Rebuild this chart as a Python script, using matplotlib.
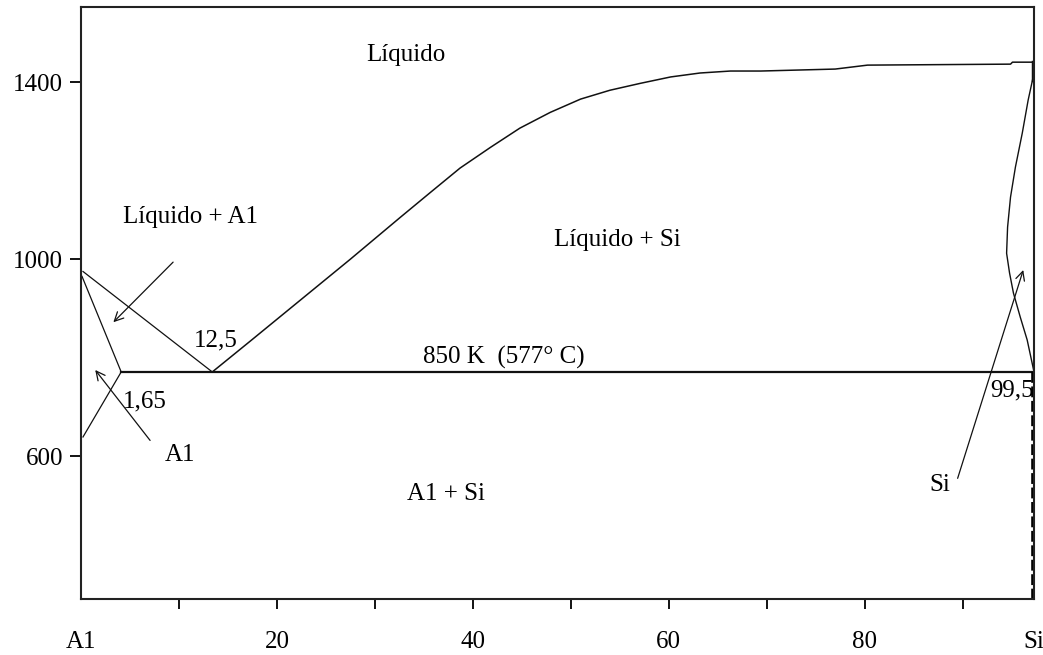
import matplotlib
matplotlib.use("Agg")
import matplotlib.pyplot as plt

plt.rcParams['font.family'] = ['Liberation Serif', 'DejaVu Serif']

# diagrama de fases Al-Si (esquematico), valores leidos do grafico
XSI = 97.3                      # borda direita = Si puro
T_EUT = 771                     # linha do eutetico "850 K"
YMIN, YMAX = 310, 1512

# liquidus do lado do Al
liq_al_x = [0.2, 13.4]
liq_al_y = [975, T_EUT]
# solidus e solvus do Al
sol_al_x = [0.1, 4.1]
sol_al_y = [965, T_EUT]
solvus_x = [4.1, 0.2]
solvus_y = [T_EUT, 639]

# liquidus do lado do Si
liq_si_x = [13.4, 17.3, 22.4, 27.5, 32.6, 35.7, 38.7, 41.8, 44.8, 47.9,
            51.0, 54.0, 57.1, 60.2, 63.2, 66.3, 69.4, 77.0, 80.3, 94.9,
            95.1, XSI]
liq_si_y = [T_EUT, 834, 917, 1000, 1085, 1136, 1185, 1227, 1266, 1298,
            1325, 1343, 1357, 1370, 1378, 1382, 1382, 1386, 1394, 1396,
            1400, 1400]

# solidus do Si (curva perto da borda direita)
sol_si_x = [XSI, 96.7, 96.1, 95.4, 94.9, 94.6, 94.5, 94.8, 95.2, 95.9, 96.6, XSI]
sol_si_y = [1378, 1323, 1256, 1187, 1126, 1065, 1012, 972, 931, 882, 836, T_EUT]

# setas (cauda -> ponta)
arrows = [((9.4, 994), (3.3, 872)),
          ((7.05, 632), (1.45, 775)),
          ((89.5, 555), (96.2, 978))]

labels = [("Líquido", 33.2, 1414),
          ("Líquido + A1", 11.2, 1085),
          ("Líquido + Si", 54.8, 1039),
          ("12,5", 13.8, 834),
          ("1,65", 6.5, 712),
          ("A1", 10.1, 602),
          ("850 K  (577° C)", 43.2, 801),
          ("A1 + Si", 37.3, 523),
          ("Si", 87.7, 541),
          ("99,5", 95.1, 734)]

xtick_pos = [0, 10, 20, 30, 40, 50, 60, 70, 80, 90, XSI]
xtick_lab = ["A1", "", "20", "", "40", "", "60", "", "80", "", "Si"]
ytick_pos = [600, 1000, 1359]
ytick_lab = ["600", "1000", "1400"]

fig = plt.figure(figsize=(10.43, 6.55), dpi=100)
ax = fig.add_axes([0.0777, 0.0855, 0.9137, 0.9038])

lc = '#111111'
ax.plot(liq_al_x, liq_al_y, color=lc, lw=0.9)
ax.plot(sol_al_x, sol_al_y, color=lc, lw=0.9)
ax.plot(solvus_x, solvus_y, color=lc, lw=0.9)
ax.plot(liq_si_x, liq_si_y, color=lc, lw=1.1)
ax.plot(sol_si_x, sol_si_y, color=lc, lw=1.0)
ax.plot([4.1, XSI], [T_EUT, T_EUT], color=lc, lw=1.6)
ax.plot([XSI - 0.1, XSI - 0.1], [1400, 1363], color=lc, lw=2.5)
ax.plot([XSI - 0.15, XSI - 0.15], [T_EUT, YMIN], color='black', lw=2.6,
        linestyle=(0, (3, 1)))

for (x0, y0), (x1, y1) in arrows:
    ax.annotate("", xy=(x1, y1), xytext=(x0, y0),
                arrowprops=dict(arrowstyle='->', color=lc, lw=0.9,
                                mutation_scale=16, shrinkA=0, shrinkB=0))

for s, x, y in labels:
    ax.text(x, y, s, fontsize=18, ha='center', va='center', color='black')

ax.set_xlim(0, XSI)
ax.set_ylim(YMIN, YMAX)
ax.set_xticks(xtick_pos)
ax.set_xticklabels(xtick_lab)
ax.set_yticks(ytick_pos)
ax.set_yticklabels(ytick_lab)
ax.tick_params(axis='x', direction='out', length=7, width=1.3, pad=16,
               labelsize=18)
ax.tick_params(axis='y', direction='out', length=8, width=1.3, pad=5,
               labelsize=18)
xt = ax.xaxis.get_major_ticks()
xt[0].tick1line.set_visible(False)
xt[-1].tick1line.set_visible(False)
for sp in ax.spines.values():
    sp.set_linewidth(1.5)
    sp.set_color('#222222')

fig.savefig("out.png", dpi=100)
